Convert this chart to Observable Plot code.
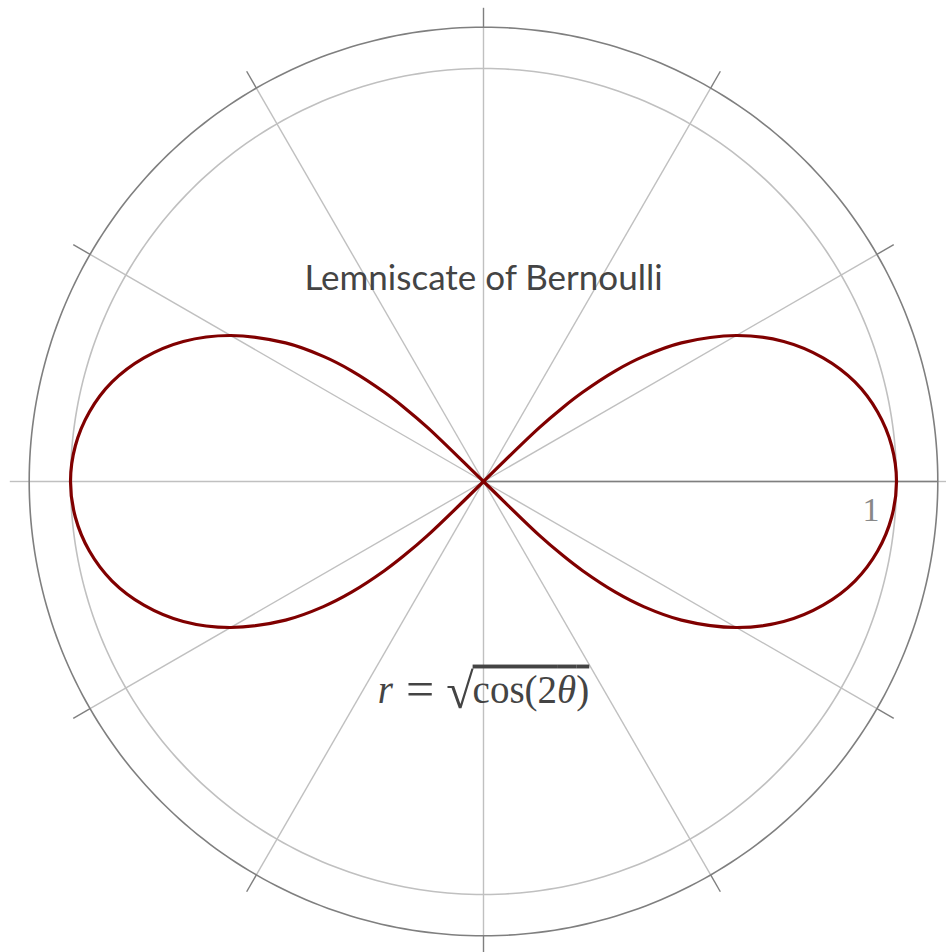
<!DOCTYPE html>
<html>
<head>
<meta charset="utf-8">
<script src="https://cdn.jsdelivr.net/npm/d3@7"></script>
<script src="https://cdn.jsdelivr.net/npm/@observablehq/plot@0.6"></script>
<style>
  html, body { margin: 0; padding: 0; background: #ffffff; }
  #chart svg { display: block; }
</style>
</head>
<body>
<div id="chart"></div>
<script>
// ---- data ----
const lobeThetaDeg = [0, 5, 10, 15, 20, 25, 30, 35, 38, 40, 42, 43, 44, 45];
const lobeR        = [1, 0.992, 0.969, 0.931, 0.875, 0.802, 0.707, 0.585, 0.492, 0.417, 0.323, 0.264, 0.187, 0];
const gridAnglesDeg = [0, 30, 60, 90, 120, 150, 180, 210, 240, 270, 300, 330];
const gridRadii = [1];
const outerRadius = [1.1];
const radialTickValues = [1];
const radialTickLabels = ["1"];
const titleText = "Lemniscate of Bernoulli";

// ---- build curve table from the quarter-lobe readings (mirrored by symmetry) ----
const rad = d => d * Math.PI / 180;
const curve = [];
const n = lobeThetaDeg.length;
// right lobe: theta 45 -> 0 -> -45
for (let i = n - 1; i >= 0; i--) curve.push({theta: lobeThetaDeg[i], r: lobeR[i]});
for (let i = 1; i < n; i++) curve.push({theta: -lobeThetaDeg[i], r: lobeR[i]});
// left lobe: theta 135 -> 180 -> 225
for (let i = n - 2; i >= 0; i--) curve.push({theta: 180 - lobeThetaDeg[i], r: lobeR[i]});
for (let i = 1; i < n; i++) curve.push({theta: 180 + lobeThetaDeg[i], r: lobeR[i]});
const px = d => d.r * Math.cos(rad(d.theta));
const py = d => d.r * Math.sin(rad(d.theta));

// circles for the polar grid
const circle = R => d3.range(0, 361, 1).map(a => ({theta: a, r: R}));

const W = 946, H = 952, cx = 483, cy = 481, unit = 413;
const xDomain = [-cx / unit, (W - cx) / unit];
const yDomain = [-(H - cy) / unit, cy / unit];

const outerR = outerRadius[0];
const tickR = 1.147;
const gridLight = gridAnglesDeg.map(a => ({a}));

const plot = Plot.plot({
  width: W,
  height: H,
  margin: 0,
  x: {domain: xDomain, axis: null},
  y: {domain: yDomain, axis: null},
  style: {background: "#ffffff", overflow: "visible"},
  marks: [
    // angular grid lines (spokes)
    Plot.link(gridLight, {
      x1: 0, y1: 0,
      x2: d => outerR * Math.cos(rad(d.a)),
      y2: d => outerR * Math.sin(rad(d.a)),
      stroke: "#c0c0c0", strokeWidth: 1.4
    }),
    // angular ticks outside the outer circle
    Plot.link(gridLight, {
      x1: d => outerR * Math.cos(rad(d.a)),
      y1: d => outerR * Math.sin(rad(d.a)),
      x2: d => tickR * Math.cos(rad(d.a)),
      y2: d => tickR * Math.sin(rad(d.a)),
      stroke: d => (d.a === 0 || d.a === 180) ? "#c0c0c0" : "#7f7f7f",
      strokeWidth: 1.4
    }),
    // radial grid circle(s)
    ...gridRadii.map(R => Plot.line(circle(R), {x: px, y: py, stroke: "#c0c0c0", strokeWidth: 1.6})),
    // outer boundary circle
    Plot.line(circle(outerR), {x: px, y: py, stroke: "#7f7f7f", strokeWidth: 1.6}),
    // radial axis line at 0 degrees
    Plot.link([0], {x1: 0, y1: 0, x2: outerR, y2: 0, stroke: "#7f7f7f", strokeWidth: 1.6}),
    // radial tick label
    Plot.text(radialTickValues.map((v, i) => ({v, label: radialTickLabels[i]})), {
      x: d => d.v, y: 0, text: d => d.label,
      textAnchor: "end", dx: -17, dy: 29,
      fontFamily: "Liberation Serif, DejaVu Serif, serif",
      fontSize: 34, fill: "#888888"
    }),
    // the lemniscate
    Plot.line(curve, {x: px, y: py, curve: "catmull-rom", stroke: "#800000", strokeWidth: 3.2}),
    // title
    Plot.text([titleText], {
      x: 0, y: 0.49, text: d => d,
      fontFamily: "Lato, 'Noto Sans', sans-serif", fontSize: 35, fill: "#444444"
    }),
    // formula (content replaced with rich tspans below)
    Plot.text(["r = sqrt(cos(2θ))"], {
      x: 0, y: -0.505, text: d => d,
      fontFamily: "Liberation Serif, 'DejaVu Serif', serif", fontSize: 39, fill: "#444444",
      className: "formula"
    })
  ]
});

// rich formatting for the formula
const ft = d3.select(plot).select(".formula text");
ft.text(null).style("white-space", "pre");
ft.append("tspan").attr("font-style", "italic").text("r");
ft.append("tspan").text("\u2004");
ft.append("tspan").attr("font-size", 50).attr("dy", 3).text("=");
ft.append("tspan").attr("dy", -3).text("\u2004");
ft.append("tspan").attr("font-size", 50).attr("dy", 5).attr("dx", -1).text("√");
const under = ft.append("tspan").attr("dy", -5).attr("dx", -1).style("text-decoration", "overline");
under.append("tspan").text("cos(2");
under.append("tspan").attr("font-style", "italic").text("θ");
under.append("tspan").text(")");

document.getElementById("chart").appendChild(plot);
</script>
</body>
</html>
